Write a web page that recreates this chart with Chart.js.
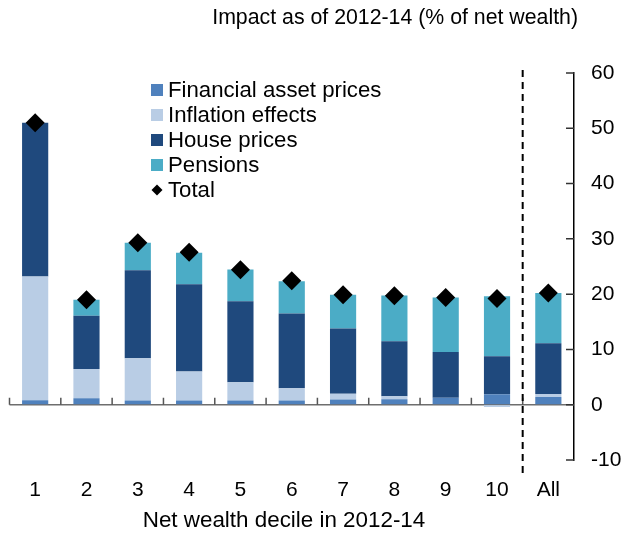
<!DOCTYPE html>
<html>
<head>
<meta charset="utf-8">
<title>Impact as of 2012-14 (% of net wealth)</title>
<script src="https://cdn.jsdelivr.net/npm/chart.js@4.4.1/dist/chart.umd.min.js"></script>
<style>
	html, body { margin: 0; padding: 0; background: #FFFFFF; }
	#chart { display: block; }
</style>
</head>
<body>
<canvas id="chart" width="625" height="534"></canvas>
<script>
/*----------------------------------------------------------------------------------------------------------------*/
/* DATA                                                                                                           */
/*----------------------------------------------------------------------------------------------------------------*/

const categories = ['1', '2', '3', '4', '5', '6', '7', '8', '9', '10', 'All'];

const financialAssetPrices = [0.8, 1.15, 0.75, 0.75, 0.75, 0.75, 0.95, 1.0, 1.25, 1.9, 1.4];
const inflationEffects = [22.4, 5.3, 7.65, 5.25, 3.3, 2.25, 1.05, 0.55, 0.0, -0.4, 0.55];
const housePrices = [27.8, 9.65, 15.9, 15.8, 14.65, 13.5, 11.8, 9.95, 8.3, 6.85, 9.15];
const pensions = [0.0, 2.9, 5.0, 5.7, 5.75, 5.85, 6.1, 8.25, 9.85, 10.85, 9.1];
const totals = [51.0, 19.0, 29.3, 27.6, 24.4, 22.4, 19.9, 19.7, 19.4, 19.2, 20.2];

const yTicks = [-10, 0, 10, 20, 30, 40, 50, 60];

const titleText = 'Impact as of 2012-14 (% of net wealth)';
const xTitleText = 'Net wealth decile in 2012-14';

/*----------------------------------------------------------------------------------------------------------------*/

const FONT = '"Liberation Sans", Arial, sans-serif';

Chart.defaults.font.family = FONT;
Chart.defaults.color = '#000000';

/*----------------------------------------------------------------------------------------------------------------*/
/* DECORATIONS (zero line, inner ticks, separator, titles, legend)                                                */
/*----------------------------------------------------------------------------------------------------------------*/

const decorations = {
	id: 'decorations',

	beforeDatasetsDraw: function(chart)
	{
		const ctx = chart.ctx;
		const area = chart.chartArea;
		const y0 = chart.scales.y.getPixelForValue(0);

		ctx.save();
		ctx.strokeStyle = '#6E6E6E';
		ctx.lineWidth = 1.5;
		ctx.beginPath();
		ctx.moveTo(area.left, y0);
		ctx.lineTo(area.right, y0);
		ctx.stroke();
		ctx.restore();
	},

	afterDatasetsDraw: function(chart)
	{
		const ctx = chart.ctx;
		const area = chart.chartArea;
		const x = chart.scales.x;
		const y = chart.scales.y;
		const y0 = y.getPixelForValue(0);
		const half = (x.getPixelForValue(1) - x.getPixelForValue(0)) / 2;

		ctx.save();

		/*--------------------------------------------------------------------------------------------------------*/

		ctx.strokeStyle = '#555555';
		ctx.lineWidth = 1.5;
		ctx.beginPath();
		for(let i = 0; i < categories.length; i++)
		{
			const xb = x.getPixelForValue(i) - half;
			ctx.moveTo(xb, y0);
			ctx.lineTo(xb, y0 - 7);
		}
		ctx.stroke();

		/*--------------------------------------------------------------------------------------------------------*/

		ctx.strokeStyle = '#333333';
		ctx.beginPath();
		y.ticks.forEach((t) => {
			const yp = y.getPixelForValue(t.value);
			ctx.moveTo(area.right - 8, yp);
			ctx.lineTo(area.right, yp);
		});
		ctx.stroke();

		/*--------------------------------------------------------------------------------------------------------*/

		const xs = (x.getPixelForValue(categories.length - 2) + x.getPixelForValue(categories.length - 1)) / 2;

		ctx.strokeStyle = '#000000';
		ctx.lineWidth = 2;
		ctx.setLineDash([7, 5]);
		ctx.beginPath();
		ctx.moveTo(xs, area.top - 3);
		ctx.lineTo(xs, area.bottom + 16);
		ctx.stroke();

		ctx.restore();
	},

	afterDraw: function(chart)
	{
		const ctx = chart.ctx;

		ctx.save();

		/*--------------------------------------------------------------------------------------------------------*/

		ctx.fillStyle = '#000000';
		ctx.font = '21.3px ' + FONT;
		ctx.textAlign = 'right';
		ctx.textBaseline = 'alphabetic';
		ctx.fillText(titleText, 578, 24);

		ctx.font = '22.4px ' + FONT;
		ctx.textAlign = 'center';
		ctx.fillText(xTitleText, 284, 527);

		/*--------------------------------------------------------------------------------------------------------*/

		ctx.font = '22.2px ' + FONT;
		ctx.textAlign = 'left';
		ctx.textBaseline = 'middle';

		chart.data.datasets.forEach((ds, i) => {
			const cy = 90 + 25 * i;

			if(ds.type === 'line')
			{
				ctx.fillStyle = '#000000';
				ctx.beginPath();
				ctx.moveTo(157, cy - 5.5);
				ctx.lineTo(162.5, cy);
				ctx.lineTo(157, cy + 5.5);
				ctx.lineTo(151.5, cy);
				ctx.closePath();
				ctx.fill();
			}
			else
			{
				ctx.fillStyle = ds.backgroundColor;
				ctx.fillRect(151, cy - 6, 12, 12);
			}

			ctx.fillStyle = '#000000';
			ctx.fillText(ds.label, 168, cy + 1);
		});

		ctx.restore();
	},
};

/*----------------------------------------------------------------------------------------------------------------*/
/* CHART                                                                                                          */
/*----------------------------------------------------------------------------------------------------------------*/

const barOptions = {
	type: 'bar',
	stack: 'parts',
	order: 1,
	barPercentage: 0.51,
	categoryPercentage: 1.0,
	borderWidth: 0,
};

new Chart(document.getElementById('chart').getContext('2d'), {
	type: 'bar',
	data: {
		labels: categories,
		datasets: [
			Object.assign({label: 'Financial asset prices', data: financialAssetPrices, backgroundColor: '#4F81BD'}, barOptions),
			Object.assign({label: 'Inflation effects', data: inflationEffects, backgroundColor: '#B9CDE5'}, barOptions),
			Object.assign({label: 'House prices', data: housePrices, backgroundColor: '#1F497D'}, barOptions),
			Object.assign({label: 'Pensions', data: pensions, backgroundColor: '#4BACC6'}, barOptions),
			{
				type: 'line',
				label: 'Total',
				data: totals,
				stack: 'total',
				order: 0,
				showLine: false,
				pointStyle: 'rectRot',
				pointRadius: 9.5,
				pointHoverRadius: 9.5,
				pointBorderWidth: 0,
				backgroundColor: '#000000',
				borderColor: '#000000',
			},
		],
	},
	options: {
		responsive: false,
		animation: false,
		devicePixelRatio: 1,
		layout: {
			padding: {left: 8, top: 73, right: 0, bottom: 0},
		},
		plugins: {
			legend: {display: false},
			title: {display: false},
			tooltip: {enabled: false},
		},
		scales: {
			x: {
				stacked: true,
				grid: {display: false, drawTicks: false},
				border: {display: false},
				ticks: {
					color: '#000000',
					font: {size: 21},
					padding: 18,
					maxRotation: 0,
					autoSkip: false,
				},
				afterFit: (scale) => {
					scale.height = 74;
				},
			},
			y: {
				position: 'right',
				stacked: true,
				min: -10,
				max: 60,
				grid: {drawOnChartArea: false, drawTicks: false},
				border: {display: true, color: '#000000', width: 1.5},
				ticks: {
					color: '#000000',
					font: {size: 21},
					padding: 17,
				},
				afterBuildTicks: (scale) => {
					scale.ticks = yTicks.map((v) => ({value: v}));
				},
				afterFit: (scale) => {
					scale.width = 51;
				},
			},
		},
	},
	plugins: [decorations],
});

/*----------------------------------------------------------------------------------------------------------------*/
</script>
</body>
</html>
